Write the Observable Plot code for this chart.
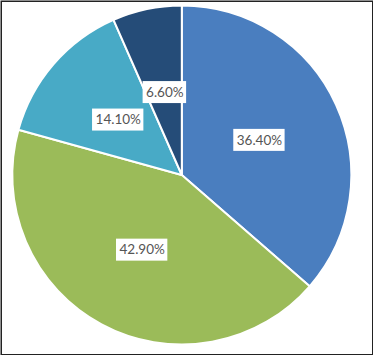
<!DOCTYPE html>
<html>
<head>
<meta charset="utf-8">
<script src="https://cdn.jsdelivr.net/npm/d3@7"></script>
<script src="https://cdn.jsdelivr.net/npm/@observablehq/plot@0.6"></script>
<style>
  html, body { margin: 0; padding: 0; background: #fff; }
  #chart svg { display: block; }
</style>
</head>
<body>
<div id="chart"></div>
<script>
// Data (clockwise from 12 o'clock)
const values = [36.4, 42.9, 14.1, 6.6];
const labels = ["36.40%", "42.90%", "14.10%", "6.60%"];
const colors = ["#4A7EBF", "#9BBB59", "#48AAC6", "#254C78"];

const W = 373, H = 355;
const cx = 181.8, cy = 175, R = 169.5;
const FONT = "Lato, 'DejaVu Sans', sans-serif";
const FONT_SIZE = 13.5;

const arcs = d3.pie().sort(null).value(d => d)(values);
const rows = arcs.map((a, i) => ({
  label: labels[i],
  color: colors[i],
  start: a.startAngle,
  end: a.endAngle,
  mid: (a.startAngle + a.endAngle) / 2
}));

// label anchor at half the radius on the mid-angle (data space, y up)
const lx = d => 0.5 * Math.sin(d.mid);
const ly = d => 0.5 * Math.cos(d.mid);

const ctx2d = document.createElement("canvas").getContext("2d");
ctx2d.font = `${FONT_SIZE}px Lato`;

function slicesMark(index, scales) {
  const sx = scales.x, sy = scales.y;
  const x0 = sx(0), y0 = sy(0);
  const r = sx(1) - sx(0);
  const arc = d3.arc().innerRadius(0).outerRadius(r);
  const g = d3.create("svg:g");
  g.selectAll("path")
    .data(rows)
    .join("path")
    .attr("transform", `translate(${x0},${y0})`)
    .attr("d", d => arc({startAngle: d.start, endAngle: d.end}))
    .attr("fill", d => d.color)
    .attr("stroke", "#fff")
    .attr("stroke-width", 2)
    .attr("stroke-linejoin", "round");
  return g.node();
}

function boxesMark(index, scales) {
  const sx = scales.x, sy = scales.y;
  const g = d3.create("svg:g");
  g.selectAll("rect")
    .data(rows)
    .join("rect")
    .each(function (d) {
      const tw = ctx2d.measureText(d.label).width;
      const w = tw + 6, h = 22;
      d3.select(this)
        .attr("x", sx(lx(d)) - w / 2)
        .attr("y", sy(ly(d)) - h / 2)
        .attr("width", w)
        .attr("height", h);
    })
    .attr("fill", "#fff");
  return g.node();
}

const chart = Plot.plot({
  width: W,
  height: H,
  margin: 0,
  style: { background: "#fff", fontFamily: FONT },
  x: { domain: [-1, 1], range: [cx - R, cx + R], axis: null },
  y: { domain: [-1, 1], range: [cy + R, cy - R], axis: null },
  marks: [
    slicesMark,
    boxesMark,
    Plot.text(rows, {
      x: lx,
      y: ly,
      text: "label",
      fill: "#555555",
      fontSize: FONT_SIZE,
      fontFamily: FONT,
      textAnchor: "middle"
    }),
    Plot.frame({ stroke: "#222", strokeWidth: 1.5, inset: 0.75 })
  ]
});

document.getElementById("chart").appendChild(chart);
</script>
</body>
</html>
